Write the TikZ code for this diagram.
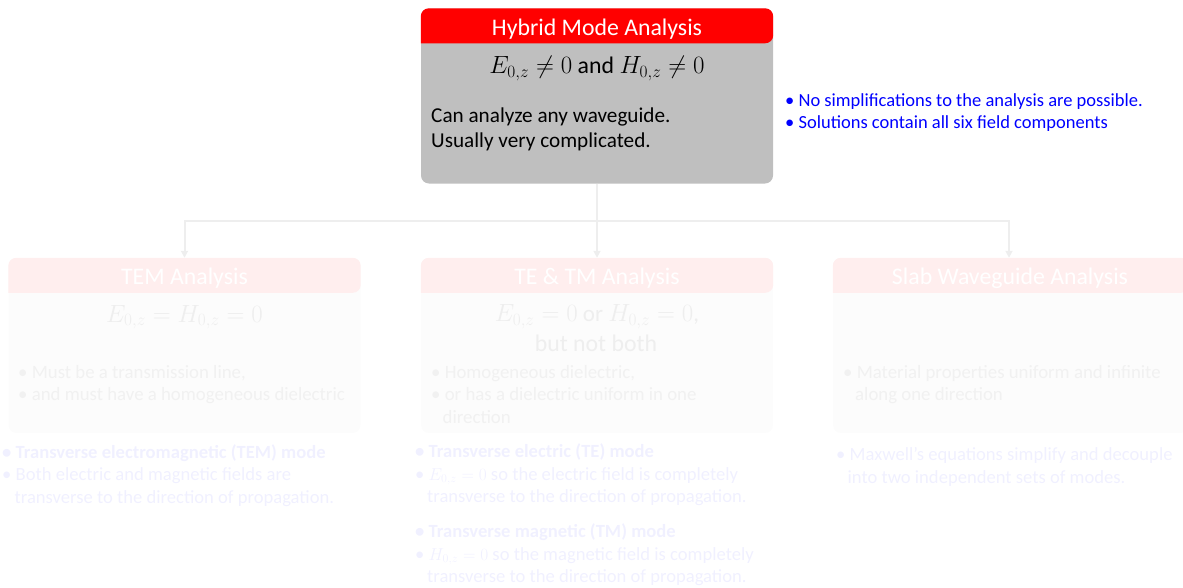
\documentclass[tikz,border=0pt]{standalone}
\usepackage{fontspec}
\setmainfont{Carlito}
\usetikzlibrary{arrows.meta,calc}
\definecolor{hdrred}{RGB}{255,0,0}
\definecolor{hybbody}{RGB}{191,191,191}
\definecolor{fadehdr}{RGB}{255,238,238}
\definecolor{fadebody}{RGB}{252,252,252}
\definecolor{fadetext}{RGB}{241,241,241}
\definecolor{fademath}{RGB}{238,238,238}
\definecolor{fadeblue}{RGB}{240,240,255}
\definecolor{linkgray}{RGB}{238,238,238}
\definecolor{noteblue}{RGB}{0,0,255}
\begin{document}
\begin{tikzpicture}[x=1pt,y=-1pt,
  box/.style={rectangle, rounded corners=8pt, minimum width=352pt,
    minimum height=175pt, inner sep=0pt},
  boxtitle/.style={anchor=base, inner sep=0pt, text=white,
    font=\fontsize{23.8}{28}\selectfont},
  txt/.style={anchor=base west, inner sep=0pt, font=\fontsize{18.8}{23}\selectfont},
  hybtxt/.style={anchor=base west, inner sep=0pt, font=\fontsize{21.2}{25}\selectfont},
  note/.style={anchor=base west, inner sep=0pt, font=\fontsize{18.6}{23}\selectfont, text=fadeblue},
  notebold/.style={note, font=\bfseries\fontsize{18.6}{23}\selectfont},
  bluenote/.style={anchor=base west, inner sep=0pt, text=noteblue, font=\fontsize{18.5}{22}\selectfont},
  mathline/.style={anchor=base, inner sep=0pt, text=fademath, font=\fontsize{23}{27}\selectfont},
  link/.style={draw=linkgray, line width=2pt},
  linkarrow/.style={link, -{Triangle[width=7pt,length=7pt]}}]
\useasboundingbox (0,0) rectangle (1183,587);

% ---------- boxes ----------
\node[box, fill=hybbody] (hyb) at (597,96) {};
\node[box, fill=fadebody] (tem) at (184.5,345.5) {};
\node[box, fill=fadebody] (tetm) at (597,345.5) {};
\node[box, fill=fadebody, minimum width=356pt] (slab) at (1011,345.5) {};

% header bands (rounded on top only)
\foreach \b/\c in {hyb/hdrred, tem/fadehdr, tetm/fadehdr, slab/fadehdr}{
  \fill[\c, rounded corners=8pt] ($(\b.north west)+(0,35)$) -- (\b.north west)
    -- (\b.north east) -- ($(\b.north east)+(0,35)$) [sharp corners] -- cycle;
}

% ---------- connectors ----------
\coordinate (split) at ($(hyb.south)+(0,37)$);
\draw[link] (hyb.south) -- (split);
\draw[linkarrow] (split) -| (tem.north);
\draw[linkarrow] (split) -- (tetm.north);
\draw[linkarrow] (split) -| ([xshift=-2pt]slab.north);

% ---------- hybrid mode box ----------
\node[boxtitle] (hybt) at (597,35) {Hybrid Mode Analysis};
\node[anchor=base, inner sep=0pt, font=\fontsize{23.8}{28}\selectfont] (hybm) at (597,73.5)
  {$E_{0,z}\neq 0$ and $H_{0,z}\neq 0$};
\node[hybtxt] (hyb1) at (431,122) {Can analyze any waveguide.};
\node[hybtxt] (hyb2) at (431,147) {Usually very complicated.};

\node[bluenote] (n1) at (785,106) {• No simplifications to the analysis are possible.};
\node[bluenote] (n2) at (785,128) {• Solutions contain all six field components};

% ---------- TEM box ----------
\node[boxtitle] (temt) at (184.5,284) {TEM Analysis};
\node[mathline] (temm) at (184.5,322) {$E_{0,z}=H_{0,z}=0$};
\node[txt, text=fadetext] (tem1) at (18,378) {• Must be a transmission line,};
\node[txt, text=fadetext] (tem2) at (18,400.5) {• and must have a homogeneous dielectric};
\node[notebold] (temn1) at (2,458) {• Transverse electromagnetic (TEM) mode};
\node[note] (temn2) at (2,480.5) {• Both electric and magnetic fields are};
\node[note] (temn3) at (14.5,503) {transverse to the direction of propagation.};

% ---------- TE & TM box ----------
\node[boxtitle] (tetmt) at (597,284) {TE \& TM Analysis};
\node[mathline] (tetmm1) at (597,321.5) {$E_{0,z}=0$ or $H_{0,z}=0$,};
\node[mathline, font=\fontsize{23.8}{28}\selectfont] (tetmm2) at (596,351) {but not both};
\node[txt, text=fadetext] (tetm1) at (431,378) {• Homogeneous dielectric,};
\node[txt, text=fadetext] (tetm2) at (431,400.5) {• or has a dielectric uniform in one};
\node[txt, text=fadetext] (tetm3) at (442.5,423) {direction};
\node[notebold] (ten1) at (415,457) {• Transverse electric (TE) mode};
\node[note] (ten2) at (415,480) {• $E_{0,z}=0$ so the electric field is completely};
\node[note] (ten3) at (427,502.5) {transverse to the direction of propagation.};
\node[notebold] (tmn1) at (415,537) {• Transverse magnetic (TM) mode};
\node[note] (tmn2) at (415,560) {• $H_{0,z}=0$ so the magnetic field is completely};
\node[note] (tmn3) at (427,582.5) {transverse to the direction of propagation.};

% ---------- slab waveguide box ----------
\node[boxtitle] (slabt) at (1010,284) {Slab Waveguide Analysis};
\node[txt, text=fadetext] (slab1) at (843,378) {• Material properties uniform and infinite};
\node[txt, text=fadetext] (slab2) at (855,400.5) {along one direction};
\node[note] (slabn1) at (836,460) {• Maxwell’s equations simplify and decouple};
\node[note] (slabn2) at (847.5,483) {into two independent sets of modes.};
\end{tikzpicture}
\end{document}
